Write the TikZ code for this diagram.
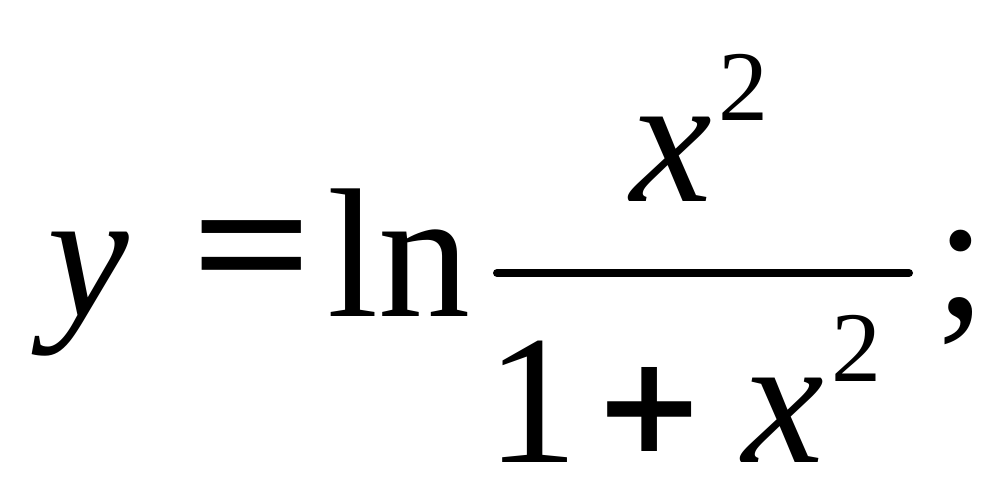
\documentclass[tikz,border=0pt]{standalone}
\usepackage{graphicx}
\usepackage{fontspec}
\setmainfont{Liberation Serif}
\newfontfamily\symfont{DejaVu Sans}
\begin{document}
\begin{tikzpicture}[x=1pt,y=1pt,
  big/.style={inner sep=0pt, anchor=base west, font=\fontsize{184}{200}\selectfont},
  sup/.style={inner sep=0pt, anchor=base west, font=\fontsize{100}{110}\selectfont},
  op/.style={inner sep=0pt, anchor=center}]
\useasboundingbox (0,0) rectangle (1000,500);
\node[big] (y) at (47,183) {\itshape y};
\node[op, font=\fontsize{184}{200}\selectfont\bfseries] (eq) at (252.5,236.5) {\scalebox{1.16}[1]{=}};
\node[big] (ln) at (327,183) {ln};
\coordinate (barl) at (497,227);
\coordinate (barr) at (909,227);
\draw[line width=8pt, line cap=round] (barl) -- (barr);
\node[big] (xn) at (630,298) {\itshape x};
\node[sup] (sn) at (718,379) {2};
\node[big] (one) at (486,37) {1};
\node[op, font=\fontsize{134}{150}\selectfont\symfont\bfseries] (plus) at (650,91) {+};
\node[big] (xd) at (742,37) {\itshape x};
\node[sup] (sd) at (831,118) {2};
\node[big] (semi) at (935,183) {;};
\end{tikzpicture}
\end{document}
